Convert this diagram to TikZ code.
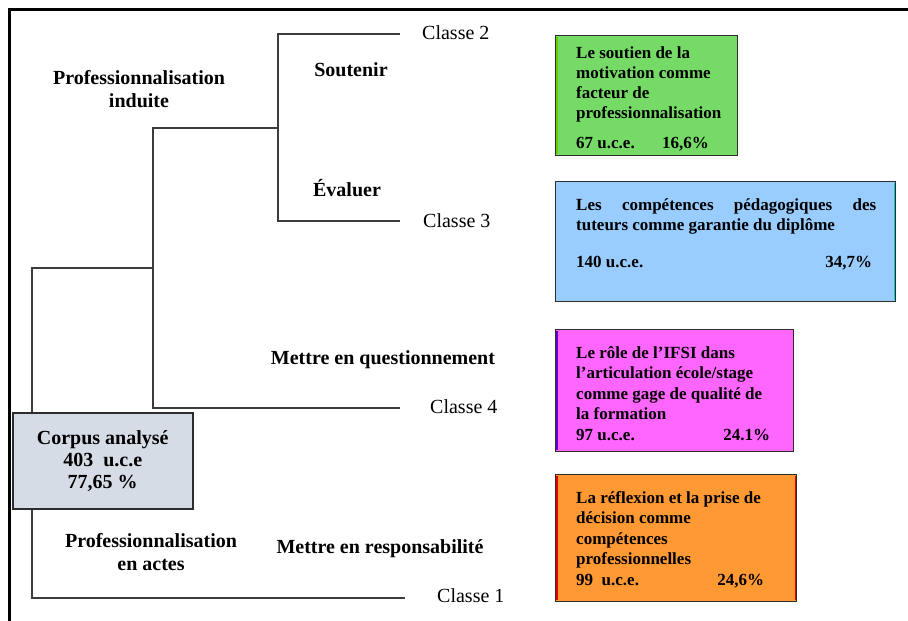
\documentclass[tikz,border=0pt]{standalone}
\usepackage{fontspec}
\setmainfont{Liberation Serif}
\definecolor{treegray}{RGB}{60,60,60}
\definecolor{boxedge}{RGB}{45,45,45}
\definecolor{cgreen}{RGB}{117,219,102}
\definecolor{cblue}{RGB}{153,204,255}
\definecolor{cmag}{RGB}{255,102,255}
\definecolor{corange}{RGB}{255,153,51}
\definecolor{corpusfill}{RGB}{214,220,229}
\definecolor{lime}{RGB}{102,204,0}
\definecolor{cyanedge}{RGB}{0,204,204}
\definecolor{purpleedge}{RGB}{102,0,204}
\definecolor{rededge}{RGB}{230,0,0}
\begin{document}
\begin{tikzpicture}[x=1pt,y=-1pt,
  tree/.style={draw=treegray,line width=1.3pt},
  lbl/.style={font=\fontsize{20}{23.5}\selectfont\bfseries,align=center,inner sep=0pt},
  cls/.style={font=\fontsize{20}{24}\selectfont,inner sep=0pt,anchor=west},
  cbox/.style={draw=boxedge,line width=1.3pt,anchor=north west,inner sep=0pt},
  btxt/.style={font=\fontsize{17}{20.6}\selectfont\bfseries,align=left,anchor=north west,inner sep=0pt}]
\useasboundingbox (0,0) rectangle (908,621);
\fill[white] (0,0) rectangle (908,621);
% outer frame (top and left)
\draw[line width=3pt] (9,621) -- (9,9) -- (908,9);

% class labels
\node[cls] (c2) at (422,33) {Classe 2};
\node[cls] (c3) at (423,221) {Classe 3};
\node[cls] (c4) at (430,407) {Classe 4};
\node[cls] (c1) at (437,596) {Classe 1};

% tree coordinates
\coordinate (e2) at (400,34);
\coordinate (e3) at (400,221);
\coordinate (e4) at (400,408);
\coordinate (e1) at (405,598);
\coordinate (k23) at (278,128);
\coordinate (k234) at (153,268);
\coordinate (kb) at (32,598);

\draw[tree] (e2) -| (k23) |- (e3);
\draw[tree] (k23) -| (k234) |- (e4);
\draw[tree] (k234) -| (kb) -- (e1);

% corpus box
\node[draw=boxedge,fill=corpusfill,line width=1.5pt,anchor=north west,inner sep=0pt,
      minimum width=180pt,minimum height=96pt,align=center,
      font=\fontsize{20}{22}\selectfont\bfseries] (corpus) at (12,412)
      {Corpus analysé\\403~~u.c.e\\77,65 \%};

% branch labels
\node[lbl] (pi) at (139,89) {Professionnalisation\\induite};
\node[lbl] (sout) at (351,70) {Soutenir};
\node[lbl] (eval) at (347,188) {Évaluer};
\node[lbl] (mq) at (383,360) {Mettre en questionnement};
\node[lbl] (pa) at (151,552) {Professionnalisation\\en actes};
\node[lbl] (mr) at (380,549) {Mettre en responsabilité};

% green box
\node[cbox,fill=cgreen,minimum width=182pt,minimum height=120pt] (bg) at (555,35) {};
\draw[lime,line width=1.5pt] ([xshift=2pt,yshift=-2pt]bg.north west) -- ([xshift=2pt,yshift=2pt]bg.south west);
\node[btxt,font=\fontsize{17}{20}\selectfont\bfseries] (tg) at (576,47)
  {Le soutien de la\\motivation comme\\facteur de\\professionnalisation\\[10pt]\makebox[86pt][l]{67 u.c.e.}16,6\%};

% blue box
\node[cbox,fill=cblue,minimum width=340pt,minimum height=120pt] (bb) at (555,181) {};
\draw[cyanedge,line width=1.5pt] ([xshift=-2pt,yshift=-2pt]bb.north east) -- ([xshift=-2pt,yshift=2pt]bb.south east);
\node[btxt,font=\fontsize{17}{20.5}\selectfont\bfseries] (tb) at (576,198)
  {\makebox[300pt][s]{Les compétences pédagogiques des}\\tuteurs comme garantie du diplôme\\[16pt]\makebox[296pt][l]{140 u.c.e.\hfill 34,7\%}};

% magenta box
\node[cbox,fill=cmag,minimum width=238pt,minimum height=122pt] (bm) at (555,329) {};
\draw[purpleedge,line width=1.5pt] ([xshift=2pt,yshift=-2pt]bm.north west) -- ([xshift=2pt,yshift=2pt]bm.south west);
\node[btxt] (tm) at (576,346)
  {Le rôle de l’IFSI dans\\l’articulation école/stage\\comme gage de qualité de\\la formation\\\makebox[194pt][l]{97 u.c.e.\hfill 24.1\%}};

% orange box
\node[cbox,fill=corange,minimum width=241pt,minimum height=127pt] (bo) at (555,474) {};
\draw[rededge,line width=1.5pt] ([xshift=2pt,yshift=-2pt]bo.north west) -- ([xshift=2pt,yshift=2pt]bo.south west);
\draw[rededge,line width=1.5pt] ([xshift=-2pt,yshift=-2pt]bo.north east) -- ([xshift=-2pt,yshift=2pt]bo.south east);
\node[btxt] (to) at (576,491)
  {La réflexion et la prise de\\décision comme\\compétences\\professionnelles\\\makebox[188pt][l]{99~~u.c.e.\hfill 24,6\%}};
\end{tikzpicture}
\end{document}
